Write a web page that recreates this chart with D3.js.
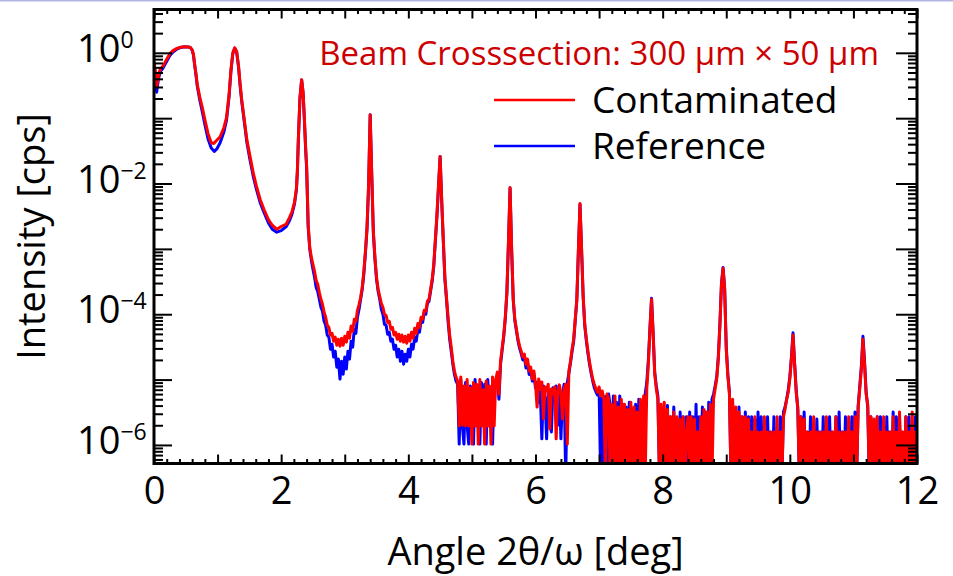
<!DOCTYPE html>
<html><head><meta charset="utf-8">
<script src="https://cdn.jsdelivr.net/npm/d3@7"></script>
<style>
body{margin:0;background:#fff;}
svg{display:block;font-family:"Open Sans",sans-serif;}
</style></head><body>
<svg id="c" width="953" height="576"></svg>
<script>
// ---------- data: [angle (deg), intensity (cps)] for the smooth low-angle part ----------
const redHead = [[0.00,0.73],[0.02,0.52],[0.042,0.30],[0.07,0.45],[0.10,0.57],[0.14,0.62],[0.20,0.80],[0.25,0.97],[0.30,1.08],[0.36,1.17],[0.42,1.22],[0.48,1.24],[0.54,1.23],[0.57,1.21],[0.60,1.11],[0.62,0.95],[0.64,0.66],[0.66,0.48],[0.68,0.33],[0.72,0.21],[0.76,0.145],[0.80,0.095],[0.85,0.058],[0.90,0.042],[0.94,0.041],[0.98,0.045],[1.04,0.052],[1.10,0.072],[1.14,0.102],[1.18,0.228],[1.21,0.55],[1.24,1.00],[1.27,1.19],[1.30,1.04],[1.33,0.62],[1.355,0.33],[1.38,0.19],[1.42,0.095],[1.46,0.047],[1.51,0.026],[1.56,0.0147],[1.61,0.0092],[1.67,0.0057],[1.73,0.0040],[1.80,0.0028],[1.86,0.0023],[1.93,0.0020],[2.00,0.0022],[2.08,0.0024],[2.13,0.0030],[2.17,0.0037],[2.21,0.0052],[2.24,0.0085],[2.255,0.016],[2.27,0.047],[2.295,0.20],[2.322,0.387],[2.345,0.25],[2.365,0.10],[2.385,0.035]];
const blueHead = [[0.00,0.70],[0.02,0.48],[0.042,0.25],[0.07,0.40],[0.10,0.52],[0.14,0.58],[0.20,0.74],[0.25,0.91],[0.30,1.03],[0.36,1.14],[0.42,1.21],[0.48,1.24],[0.54,1.23],[0.57,1.21],[0.60,1.10],[0.62,0.93],[0.64,0.64],[0.66,0.46],[0.68,0.31],[0.72,0.19],[0.76,0.125],[0.80,0.080],[0.85,0.048],[0.90,0.035],[0.95,0.031],[0.99,0.034],[1.04,0.042],[1.10,0.062],[1.14,0.092],[1.18,0.21],[1.21,0.52],[1.24,0.98],[1.27,1.18],[1.30,1.03],[1.33,0.60],[1.355,0.31],[1.38,0.18],[1.42,0.088],[1.46,0.043],[1.51,0.023],[1.56,0.0130],[1.61,0.0082],[1.67,0.0051],[1.73,0.0036],[1.80,0.0025],[1.86,0.0020],[1.93,0.0018],[2.00,0.0019],[2.08,0.0022],[2.13,0.0027],[2.17,0.0034],[2.21,0.0049],[2.24,0.0080],[2.255,0.015],[2.27,0.045],[2.295,0.20],[2.322,0.385],[2.345,0.24],[2.365,0.095],[2.385,0.033]];

// ---------- measured tail: one value per 0.025 deg from 2.4 deg, in units of 1e-6 cps (0 = no counts) ----------
const tailStart = 2.4, tailStep = 0.025, tailUnit = 1e-6;
const redTail = [
19500,2370,1050,741,580,453,330,287,217,170,142,107,90,68,63,48,51,38.7,44.6,33.6,
41.5,32.5,43,33.6,46,37.4,53,43,66,55,84,78,115,142,182,258,453,916,2130,9660,
113000,13700,1850,741,367,241,188,147,128,100,96,75,78,59,63,48,53,41.5,49.5,38.7,
48,37.4,46,36,48,38.7,53,43,61,51,72,63,90,84,115,111,158,170,241,342,
580,1400,3370,9660,25800,5700,1400,367,182,90,48,31.3,19.1,13.5,10.9,9.5,1.95,11,2.0,8.0,
1.95,10,1.95,7.5,1.03,9.0,1.95,8.5,1.03,10,1.95,7.0,1.03,9.5,1.95,8.0,1.03,11,1.95,10,
13,6,19,30,48,90,220,1300,8690,982,170,84,59,41.5,32.5,27.2,22.1,24.5,17.2,20.6,
13.5,15.5,10.2,13.5,8.5,3.8,10.2,7.2,9.2,2.5,7.7,6.7,8.5,1.75,7.2,6.0,7.7,1.24,6.7,8.3,
6.0,2.5,7.2,8.5,1.03,13.5,19.1,29.2,41.5,84,170,982,4950,982,188,70,41.5,27.2,18.5,13.5,
10.2,8.5,7.2,6.4,7.7,5.6,6.7,5.0,0,6.0,5.0,0,4.2,0,5.6,0,3.8,0,5.0,0,
4.2,0,3.5,0,4.5,0,3.8,0,3.2,0,5.0,0,5.6,0,7.2,17.2,59,170,49.5,12.1,
7.2,5.0,0,4.2,0,4.5,0,3.5,0,2.7,0,3.2,0,2.7,0,2.5,0,2.7,0,1.58,
2.7,0,2.7,0,2.5,0,1.58,0,2.7,0,3.5,0,3.2,0,4.2,0,5.0,7.2,10.2,20.6,
66,287,504,241,29.2,11.3,6.0,0,5.0,0,3.8,0,3.2,0,2.7,0,2.7,0,2.5,0,
1.58,0,2.7,0,1.58,0,1.58,0,2.7,0,1.58,0,1.58,0,1.58,0,2.7,0,1.58,0,
2.7,3.5,5.0,6.4,10.2,20.6,48,17.2,6.4,3.8,0,2.7,0,2.5,0,1.58,0,1.58,0,2.7,
0,1.58,0,1.58,0,1.58,0,2.7,0,1.58,0,1.58,0,2.7,0,1.58,0,1.58,0,1.58,
0,2.7,0,1.58,0,2.7,0,3.8,7.2,14.5,41.5,17.2,6.0,4.2,0,2.7,0,2.5,0,2.7,
0,1.58,0,2.7,0,1.58,0,1.58,0,2.7,0,1.58,0,3.2,0,1.58,0,2.7,0,1.58,
0,3.2,0,1.58,0];
const blueTail = [
17500,2130,982,667,487,367,258,224,170,128,111,78,68,48,44.6,29.2,34.8,22.1,27.2,15.5,
20.6,10.2,19.1,12.1,22.1,14.5,27.2,20.6,38.7,31.3,59,51,90,119,170,241,408,853,1990,9000,
113000,12800,1730,691,342,224,170,119,100,70,68,49.5,53,38.7,41.5,29.2,33.6,22.1,29.2,19.1,
27.2,17.2,24.5,19.1,29.2,22.1,34.8,29.2,44.6,38.7,59,53,78,75,107,100,147,158,224,319,
541,1300,3130,9000,25800,5310,1300,342,170,78,41.5,27.2,17.2,12.1,9.5,8.5,1.03,10,1.95,1.03,
9,1.95,1.03,8,1.95,1.03,10,1.95,7.5,1.03,9,1.95,8.5,1.03,10,1.95,7,1.03,9,8,
11,5,17,28,45,85,210,1250,8500,950,165,80,56,39,30,25,20,22,15,18,
12,14,9.5,12,7.5,9.0,4.5,6.5,1.24,8.0,5.0,1.24,7.0,6.0,1.58,7.5,5.5,8.0,2.0,7.0,
1.24,6.0,8.5,0,9.0,12.5,18,27,38,80,165,950,4800,950,180,66,39,25,17,12.5,
9.5,7.5,6.5,5.8,7.0,0,6.0,0,5.5,0,6.0,4.0,0,5.6,0,4.5,0,5.6,0,4.2,
0,3.8,0,4.5,0,3.5,0,4.2,0,5.0,0,4.5,0,6.0,9.0,20,62,175,52,13,
8.0,5.6,0,3.8,0,3.2,0,4.0,0,2.7,0,3.8,0,2.5,0,3.2,0,2.7,0,2.7,
0,3.2,0,2.7,0,4.2,0,2.7,0,3.8,0,3.2,0,4.5,0,5.0,6.0,8.0,11,22,
70,300,520,250,32,12,6.5,0,4.5,0,3.2,0,3.8,0,2.7,0,3.2,0,2.7,0,
2.7,0,2.5,0,3.2,0,2.7,0,1.58,0,2.7,0,1.58,0,2.7,0,1.58,0,2.7,0,
3.2,3.8,5.0,7.0,11,22,52,18,7.0,3.5,0,2.7,0,3.2,0,1.58,0,2.7,0,1.58,
0,2.5,0,1.58,0,2.7,0,1.58,0,2.7,0,1.58,0,2.7,0,3.2,0,1.58,0,2.7,
0,1.58,0,2.7,0,3.2,0,4.0,8.0,16,46,19,6.5,3.8,0,2.7,0,1.58,0,2.7,
0,2.7,0,1.58,0,2.7,0,1.58,0,3.2,0,2.7,0,2.7,0,1.58,0,2.7,0,2.7,
0,1.58,0,2.7,0];

// ---------- axes / labels ----------
const xDomain = [0, 12];
const yDomain = [5.2e-7, 4.6];
const xMajorTicks = [0,1,2,3,4,5,6,7,8,9,10,11,12];
const xTickLabels = [0,2,4,6,8,10,12];
const yDecades = [1e-6,1e-5,1e-4,1e-3,1e-2,1e-1,1e0];
const yLabelExps = [0,-2,-4,-6];
const seriesNames = ["Contaminated","Reference"];
const seriesColors = ["#ff0000","#0000ff"];
const annotation = "Beam Crosssection: 300 \u03bcm \u00d7 50 \u03bcm";
const xTitle = "Angle 2\u03b8/\u03c9 [deg]";
const yTitle = "Intensity [cps]";

// ---------- build ----------
const L = 154, R = 917, T = 9.5, B = 463.5;
const x = d3.scaleLinear(xDomain, [L, R]);
const y = d3.scaleLog(yDomain, [B, T]);
const svg = d3.select("#c");

svg.append("line").attr("x1",0).attr("x2",953).attr("y1",0.75).attr("y2",0.75)
  .attr("stroke","#b4b4e4").attr("stroke-width",1.5);

function build(head, tail){
  return head.concat(tail.map((v,i)=>[tailStart + i*tailStep, v*tailUnit]));
}
const red = build(redHead, redTail);
const blue = build(blueHead, blueTail);

svg.append("clipPath").attr("id","clip").append("rect")
  .attr("x",L).attr("y",T).attr("width",R-L).attr("height",B-T);

const line = d3.line().x(d=>x(d[0])).y(d=> d[1] > 0 ? y(d[1]) : B + 15);
const plot = svg.append("g").attr("clip-path","url(#clip)");
[[blue, seriesColors[1]],[red, seriesColors[0]]].forEach(([data,col])=>{
  plot.append("path").datum(data).attr("d",line).attr("fill","none")
    .attr("stroke",col).attr("stroke-width",3).attr("stroke-linejoin","round");
});

// minor tick values (axis styling)
const xMinor = d3.range(0, 60.5).map(i=>i*0.2).filter(v=>Math.abs(v-Math.round(v))>1e-6);
const yMinor = [];
[1e-7,1e-6,1e-5,1e-4,1e-3,1e-2,1e-1,1e0].forEach(d=>{for(let m=2;m<=9;m++){const v=m*d; if(v>yDomain[0]&&v<yDomain[1]) yMinor.push(v);}});

function styleAxis(g){ g.select(".domain").remove(); g.selectAll(".tick line").attr("stroke","#000").attr("stroke-width",2); }

// bottom
svg.append("g").attr("transform",`translate(0,${B})`)
  .call(d3.axisBottom(x).tickValues(xMinor).tickSizeInner(-4.5).tickSizeOuter(0).tickFormat("")).call(styleAxis);
const bx = svg.append("g").attr("transform",`translate(0,${B})`)
  .call(d3.axisBottom(x).tickValues(xMajorTicks).tickSizeInner(-9).tickSizeOuter(0).tickPadding(14)
  .tickFormat(d=> xTickLabels.includes(d) ? d : "")).call(styleAxis);
bx.selectAll("text").attr("font-size",38).attr("fill","#000").attr("font-family","'Open Sans',sans-serif");
// top
svg.append("g").attr("transform",`translate(0,${T})`)
  .call(d3.axisTop(x).tickValues(xMinor).tickSizeInner(-4.5).tickSizeOuter(0).tickFormat("")).call(styleAxis);
svg.append("g").attr("transform",`translate(0,${T})`)
  .call(d3.axisTop(x).tickValues(xMajorTicks).tickSizeInner(-9).tickSizeOuter(0).tickFormat("")).call(styleAxis);
// left
svg.append("g").attr("transform",`translate(${L},0)`)
  .call(d3.axisLeft(y).tickValues(yMinor).tickSizeInner(-9).tickSizeOuter(0).tickFormat("")).call(styleAxis);
svg.append("g").attr("transform",`translate(${L},0)`)
  .call(d3.axisLeft(y).tickValues(yDecades).tickSizeInner(-18).tickSizeOuter(0).tickFormat("")).call(styleAxis);
// right
svg.append("g").attr("transform",`translate(${R},0)`)
  .call(d3.axisRight(y).tickValues(yMinor).tickSizeInner(-9).tickSizeOuter(0).tickFormat("")).call(styleAxis);
svg.append("g").attr("transform",`translate(${R},0)`)
  .call(d3.axisRight(y).tickValues(yDecades).tickSizeInner(-21).tickSizeOuter(0).tickFormat("")).call(styleAxis);

// frame
svg.append("rect").attr("x",L).attr("y",T).attr("width",R-L).attr("height",B-T)
  .attr("fill","none").attr("stroke","#000").attr("stroke-width",3);

// y tick labels 10^n
yLabelExps.forEach(e=>{
  const t = svg.append("text").attr("x",77).attr("y",y(Math.pow(10,e))+9)
    .attr("font-size",38).attr("fill","#000");
  t.append("tspan").text("10");
  t.append("tspan").attr("dy",-14).attr("font-size",23).text(e===0 ? "0" : "\u2212"+Math.abs(e));
});

// titles
svg.append("text").attr("x",(L+R)/2).attr("y",565).attr("text-anchor","middle")
  .attr("font-size",38).attr("fill","#000").text(xTitle);
svg.append("text").attr("transform",`translate(45,${(T+B)/2}) rotate(-90)`).attr("text-anchor","middle")
  .attr("font-size",38).attr("fill","#000").text(yTitle);

// annotation + legend
svg.append("text").attr("x",879).attr("y",65).attr("text-anchor","end")
  .attr("font-size",33).attr("fill","#cc0000").text(annotation);
seriesNames.forEach((n,i)=>{
  const yy = 100 + i*46;
  svg.append("line").attr("x1",494).attr("x2",575).attr("y1",yy).attr("y2",yy)
    .attr("stroke",seriesColors[i]).attr("stroke-width",2.4);
  svg.append("text").attr("x",592).attr("y",yy+13).attr("font-size",37).attr("fill","#000").text(n);
});
</script>
</body></html>
